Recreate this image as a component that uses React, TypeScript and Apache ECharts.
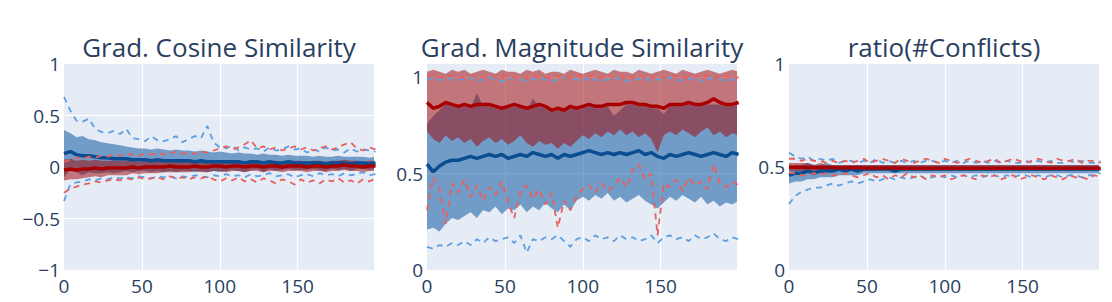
import React, { useEffect, useRef } from "react";
import * as echarts from "echarts";

const EPOCHS = [
  0, 4, 8, 12, 16, 20, 24, 28, 32, 36,
  40, 44, 48, 52, 56, 60, 64, 68, 72, 76,
  80, 84, 88, 92, 96, 100, 104, 108, 112, 116,
  120, 124, 128, 132, 136, 140, 144, 148, 152, 156,
  160, 164, 168, 172, 176, 180, 184, 188, 192, 196,
  200,
];
const X_TICKS = [0, 50, 100, 150];
const TITLES = ["Grad. Cosine Similarity", "Grad. Magnitude Similarity", "ratio(#Conflicts)"];

// ---- Grad. Cosine Similarity ----
const cosBlueMean = [
  0.13, 0.15, 0.12, 0.11, 0.11, 0.10, 0.09, 0.09, 0.08, 0.08,
  0.08, 0.07, 0.07, 0.07, 0.06, 0.07, 0.06, 0.06, 0.06, 0.06,
  0.06, 0.05, 0.06, 0.05, 0.05, 0.05, 0.05, 0.05, 0.05, 0.04,
  0.05, 0.05, 0.04, 0.05, 0.04, 0.04, 0.05, 0.04, 0.04, 0.04,
  0.04, 0.04, 0.03, 0.04, 0.04, 0.04, 0.03, 0.04, 0.04, 0.03,
  0.04,
];
const cosBlueUp = [
  0.36, 0.33, 0.29, 0.30, 0.27, 0.26, 0.24, 0.23, 0.22, 0.21,
  0.20, 0.19, 0.18, 0.18, 0.17, 0.18, 0.17, 0.16, 0.17, 0.16,
  0.16, 0.15, 0.16, 0.15, 0.14, 0.15, 0.14, 0.13, 0.14, 0.13,
  0.13, 0.12, 0.13, 0.12, 0.12, 0.11, 0.12, 0.11, 0.11, 0.11,
  0.10, 0.11, 0.10, 0.10, 0.11, 0.10, 0.10, 0.10, 0.10, 0.09,
  0.10,
];
const cosBlueLo = [
  -0.10, -0.03, -0.05, -0.08, -0.05, -0.06, -0.06, -0.05, -0.06, -0.05,
  -0.04, -0.05, -0.04, -0.04, -0.05, -0.04, -0.05, -0.04, -0.05, -0.04,
  -0.04, -0.05, -0.04, -0.05, -0.04, -0.05, -0.04, -0.03, -0.04, -0.05,
  -0.03, -0.02, -0.05, -0.02, -0.04, -0.03, -0.02, -0.03, -0.03, -0.03,
  -0.02, -0.03, -0.04, -0.02, -0.03, -0.02, -0.04, -0.02, -0.02, -0.03,
  -0.02,
];
const cosBlueMax = [
  0.68, 0.55, 0.45, 0.44, 0.47, 0.37, 0.34, 0.33, 0.35, 0.32,
  0.37, 0.28, 0.27, 0.25, 0.30, 0.26, 0.25, 0.27, 0.30, 0.24,
  0.27, 0.30, 0.28, 0.40, 0.24, 0.19, 0.18, 0.21, 0.16, 0.19,
  0.17, 0.18, 0.15, 0.19, 0.16, 0.17, 0.20, 0.17, 0.18, 0.14,
  0.17, 0.15, 0.19, 0.16, 0.17, 0.14, 0.18, 0.15, 0.17, 0.16,
  0.15,
];
const cosBlueMin = [
  -0.33, -0.17, -0.15, -0.14, -0.12, -0.13, -0.11, -0.12, -0.10, -0.11,
  -0.10, -0.11, -0.09, -0.10, -0.11, -0.09, -0.10, -0.09, -0.11, -0.09,
  -0.10, -0.08, -0.09, -0.10, -0.08, -0.09, -0.07, -0.09, -0.08, -0.10,
  -0.07, -0.09, -0.08, -0.06, -0.09, -0.08, -0.07, -0.10, -0.08, -0.07,
  -0.09, -0.06, -0.08, -0.07, -0.09, -0.06, -0.08, -0.07, -0.05, -0.08,
  -0.07,
];
const cosRedMean = [
  -0.03, -0.02, -0.03, -0.02, -0.02, -0.01, -0.02, -0.01, -0.01, -0.01,
  -0.01, 0.00, -0.01, 0.00, 0.00, 0.00, 0.00, 0.01, 0.00, 0.00,
  0.00, 0.01, 0.00, 0.00, 0.01, 0.01, 0.00, 0.01, 0.01, 0.00,
  0.01, 0.01, 0.00, 0.01, 0.01, 0.00, 0.01, 0.01, 0.01, 0.00,
  0.01, 0.01, 0.00, 0.01, 0.01, 0.02, 0.01, 0.01, 0.00, 0.01,
  0.01,
];
const cosRedUp = [
  0.07, 0.08, 0.06, 0.07, 0.06, 0.07, 0.06, 0.06, 0.06, 0.06,
  0.06, 0.06, 0.05, 0.06, 0.06, 0.06, 0.05, 0.06, 0.05, 0.05,
  0.05, 0.06, 0.05, 0.05, 0.06, 0.06, 0.05, 0.06, 0.06, 0.05,
  0.06, 0.06, 0.05, 0.06, 0.06, 0.05, 0.06, 0.06, 0.06, 0.05,
  0.06, 0.06, 0.05, 0.06, 0.06, 0.07, 0.06, 0.06, 0.05, 0.06,
  0.06,
];
const cosRedLo = [
  -0.13, -0.12, -0.12, -0.11, -0.10, -0.09, -0.10, -0.08, -0.08, -0.08,
  -0.08, -0.06, -0.07, -0.06, -0.06, -0.06, -0.05, -0.05, -0.05, -0.05,
  -0.05, -0.04, -0.05, -0.05, -0.04, -0.04, -0.05, -0.04, -0.04, -0.05,
  -0.04, -0.04, -0.05, -0.04, -0.04, -0.05, -0.04, -0.04, -0.04, -0.05,
  -0.04, -0.04, -0.05, -0.04, -0.04, -0.03, -0.04, -0.04, -0.05, -0.04,
  -0.04,
];
const cosRedMax = [
  0.05, 0.07, 0.09, 0.08, 0.10, 0.09, 0.11, 0.10, 0.12, 0.11,
  0.13, 0.12, 0.11, 0.13, 0.12, 0.14, 0.12, 0.13, 0.15, 0.13,
  0.14, 0.13, 0.15, 0.14, 0.16, 0.18, 0.20, 0.17, 0.19, 0.22,
  0.26, 0.18, 0.20, 0.17, 0.19, 0.16, 0.18, 0.20, 0.17, 0.19,
  0.16, 0.18, 0.20, 0.17, 0.19, 0.22, 0.24, 0.18, 0.16, 0.19,
  0.17,
];
const cosRedMin = [
  -0.25, -0.21, -0.19, -0.17, -0.16, -0.14, -0.15, -0.13, -0.12, -0.13,
  -0.11, -0.12, -0.10, -0.12, -0.11, -0.10, -0.12, -0.09, -0.11, -0.10,
  -0.12, -0.10, -0.11, -0.09, -0.12, -0.14, -0.11, -0.13, -0.10, -0.14,
  -0.12, -0.15, -0.11, -0.13, -0.16, -0.12, -0.14, -0.17, -0.12, -0.15,
  -0.13, -0.16, -0.12, -0.14, -0.11, -0.15, -0.13, -0.16, -0.12, -0.14,
  -0.11,
];

// ---- Grad. Magnitude Similarity ----
const magBlueMean = [
  0.55, 0.51, 0.54, 0.56, 0.57, 0.57, 0.58, 0.59, 0.58, 0.59,
  0.60, 0.59, 0.60, 0.58, 0.59, 0.60, 0.59, 0.61, 0.60, 0.59,
  0.60, 0.58, 0.60, 0.59, 0.60, 0.61, 0.62, 0.61, 0.60, 0.61,
  0.60, 0.61, 0.60, 0.61, 0.62, 0.60, 0.61, 0.59, 0.58, 0.60,
  0.59, 0.60, 0.61, 0.60, 0.59, 0.60, 0.61, 0.60, 0.59, 0.61,
  0.60,
];
const magBlueUp = [
  0.76, 0.80, 0.83, 0.86, 0.85, 0.84, 0.85, 0.84, 0.92, 0.85,
  0.85, 0.84, 0.83, 0.84, 0.85, 0.84, 0.83, 0.89, 0.85, 0.84,
  0.82, 0.83, 0.82, 0.84, 0.83, 0.84, 0.85, 0.84, 0.84, 0.85,
  0.80, 0.83, 0.86, 0.86, 0.85, 0.85, 0.84, 0.84, 0.81, 0.85,
  0.85, 0.85, 0.86, 0.85, 0.85, 0.86, 0.86, 0.86, 0.85, 0.85,
  0.86,
];
const magBlueLo = [
  0.21, 0.22, 0.20, 0.24, 0.27, 0.26, 0.28, 0.30, 0.27, 0.31,
  0.30, 0.33, 0.29, 0.32, 0.31, 0.34, 0.30, 0.33, 0.31, 0.35,
  0.32, 0.30, 0.34, 0.31, 0.36, 0.38, 0.36, 0.39, 0.37, 0.40,
  0.36, 0.38, 0.35, 0.37, 0.39, 0.36, 0.34, 0.32, 0.35, 0.38,
  0.36, 0.39, 0.37, 0.35, 0.38, 0.34, 0.36, 0.33, 0.35, 0.34,
  0.36,
];
const magBlueMax = [
  0.99, 1.00, 0.99, 0.98, 1.00, 0.99, 0.99, 1.00, 0.98, 0.99,
  1.00, 0.99, 0.98, 0.99, 1.00, 0.99, 0.98, 0.99, 1.00, 0.99,
  0.98, 0.99, 1.00, 0.99, 0.99, 0.98, 1.00, 0.99, 0.98, 0.99,
  1.00, 0.99, 0.98, 0.99, 0.99, 1.00, 0.98, 0.99, 0.99, 1.00,
  0.98, 0.99, 0.99, 1.00, 0.98, 0.99, 1.00, 0.99, 0.98, 0.99,
  0.99,
];
const magBlueMin = [
  0.12, 0.11, 0.13, 0.12, 0.14, 0.13, 0.15, 0.13, 0.16, 0.14,
  0.17, 0.15, 0.16, 0.17, 0.14, 0.18, 0.09, 0.16, 0.15, 0.17,
  0.16, 0.18, 0.15, 0.12, 0.16, 0.17, 0.15, 0.18, 0.16, 0.17,
  0.15, 0.18, 0.16, 0.17, 0.15, 0.16, 0.18, 0.14, 0.17, 0.18,
  0.16, 0.17, 0.15, 0.18, 0.16, 0.17, 0.19, 0.16, 0.15, 0.17,
  0.16,
];
const magRedMean = [
  0.87, 0.84, 0.85, 0.87, 0.86, 0.85, 0.86, 0.85, 0.86, 0.86,
  0.86, 0.85, 0.84, 0.85, 0.86, 0.85, 0.84, 0.85, 0.86, 0.85,
  0.83, 0.84, 0.83, 0.85, 0.84, 0.85, 0.86, 0.85, 0.85, 0.86,
  0.86, 0.86, 0.87, 0.87, 0.86, 0.86, 0.85, 0.85, 0.84, 0.86,
  0.86, 0.86, 0.87, 0.86, 0.86, 0.87, 0.89, 0.87, 0.86, 0.86,
  0.87,
];
const magRedUp = [
  1.03, 1.04, 1.03, 1.02, 1.04, 1.03, 1.04, 1.02, 1.03, 1.04,
  1.03, 1.02, 1.04, 1.03, 1.03, 1.02, 1.04, 1.03, 1.04, 1.02,
  1.03, 1.03, 1.02, 1.04, 1.03, 1.02, 1.03, 1.04, 1.03, 1.02,
  1.04, 1.03, 1.03, 1.02, 1.04, 1.03, 1.02, 1.03, 1.04, 1.03,
  1.02, 1.04, 1.03, 1.02, 1.03, 1.04, 1.03, 1.02, 1.03, 1.04,
  1.03,
];
const magRedLo = [
  0.72, 0.68, 0.66, 0.70, 0.67, 0.69, 0.66, 0.68, 0.64, 0.67,
  0.69, 0.66, 0.68, 0.65, 0.67, 0.70, 0.66, 0.64, 0.67, 0.65,
  0.66, 0.63, 0.66, 0.64, 0.67, 0.70, 0.68, 0.71, 0.69, 0.72,
  0.70, 0.73, 0.70, 0.72, 0.69, 0.71, 0.68, 0.61, 0.70, 0.72,
  0.70, 0.73, 0.71, 0.69, 0.72, 0.74, 0.70, 0.72, 0.69, 0.71,
  0.70,
];
const magRedMax = [
  1.00, 1.01, 1.00, 1.00, 1.01, 1.00, 1.00, 1.01, 1.00, 1.00,
  1.01, 1.00, 1.00, 1.01, 1.00, 1.01, 1.00, 1.00, 1.01, 1.00,
  1.00, 1.01, 1.00, 1.00, 1.01, 1.00, 1.01, 1.00, 1.00, 1.01,
  1.00, 1.00, 1.01, 1.00, 1.01, 1.00, 1.00, 1.01, 1.00, 1.00,
  1.01, 1.00, 1.00, 1.01, 1.00, 1.01, 1.00, 1.00, 1.01, 1.00,
  1.00,
];
const magRedMin = [
  0.31, 0.48, 0.42, 0.24, 0.45, 0.40, 0.47, 0.38, 0.44, 0.36,
  0.43, 0.39, 0.46, 0.35, 0.27, 0.41, 0.44, 0.37, 0.42, 0.34,
  0.40, 0.22, 0.36, 0.31, 0.38, 0.42, 0.44, 0.40, 0.45, 0.41,
  0.44, 0.48, 0.43, 0.52, 0.55, 0.47, 0.50, 0.18, 0.45, 0.43,
  0.47, 0.41, 0.48, 0.44, 0.46, 0.42, 0.55, 0.45, 0.43, 0.46,
  0.44,
];

// ---- ratio(#Conflicts) ----
const ratBlueMean = [
  0.46, 0.47, 0.47, 0.48, 0.47, 0.48, 0.48, 0.48, 0.49, 0.48,
  0.49, 0.48, 0.49, 0.49, 0.49, 0.49, 0.49, 0.48, 0.49, 0.49,
  0.49, 0.49, 0.49, 0.49, 0.49, 0.49, 0.49, 0.49, 0.49, 0.49,
  0.49, 0.49, 0.49, 0.49, 0.49, 0.49, 0.49, 0.49, 0.49, 0.49,
  0.49, 0.49, 0.49, 0.49, 0.49, 0.49, 0.49, 0.49, 0.49, 0.49,
  0.49,
];
const ratBlueUp = [
  0.50, 0.51, 0.51, 0.52, 0.51, 0.51, 0.52, 0.51, 0.51, 0.51,
  0.51, 0.51, 0.51, 0.51, 0.51, 0.51, 0.51, 0.51, 0.51, 0.51,
  0.51, 0.51, 0.51, 0.51, 0.51, 0.51, 0.51, 0.51, 0.51, 0.51,
  0.51, 0.51, 0.51, 0.51, 0.51, 0.51, 0.51, 0.51, 0.51, 0.51,
  0.51, 0.51, 0.51, 0.51, 0.51, 0.51, 0.51, 0.51, 0.51, 0.51,
  0.51,
];
const ratBlueLo = [
  0.42, 0.43, 0.43, 0.44, 0.44, 0.45, 0.45, 0.45, 0.46, 0.46,
  0.46, 0.46, 0.47, 0.47, 0.47, 0.47, 0.47, 0.47, 0.47, 0.47,
  0.47, 0.47, 0.47, 0.47, 0.47, 0.47, 0.47, 0.47, 0.47, 0.47,
  0.47, 0.47, 0.47, 0.47, 0.47, 0.47, 0.47, 0.47, 0.47, 0.47,
  0.47, 0.47, 0.47, 0.47, 0.47, 0.47, 0.47, 0.47, 0.47, 0.47,
  0.47,
];
const ratBlueMax = [
  0.57, 0.55, 0.54, 0.55, 0.53, 0.54, 0.53, 0.54, 0.52, 0.53,
  0.53, 0.52, 0.53, 0.52, 0.54, 0.52, 0.53, 0.52, 0.53, 0.52,
  0.53, 0.52, 0.53, 0.53, 0.52, 0.53, 0.52, 0.53, 0.52, 0.53,
  0.52, 0.53, 0.52, 0.53, 0.52, 0.53, 0.52, 0.52, 0.53, 0.52,
  0.53, 0.52, 0.53, 0.52, 0.52, 0.53, 0.52, 0.53, 0.52, 0.52,
  0.53,
];
const ratBlueMin = [
  0.32, 0.36, 0.38, 0.39, 0.40, 0.40, 0.41, 0.42, 0.41, 0.42,
  0.43, 0.42, 0.43, 0.44, 0.43, 0.44, 0.45, 0.44, 0.45, 0.44,
  0.45, 0.46, 0.44, 0.45, 0.46, 0.45, 0.46, 0.45, 0.46, 0.45,
  0.46, 0.45, 0.46, 0.46, 0.45, 0.46, 0.45, 0.46, 0.46, 0.45,
  0.46, 0.45, 0.46, 0.46, 0.45, 0.46, 0.46, 0.45, 0.46, 0.46,
  0.47,
];
const ratRedMean = [
  0.500, 0.499, 0.499, 0.498, 0.498, 0.497, 0.497, 0.497, 0.496, 0.496,
  0.496, 0.496, 0.495, 0.495, 0.495, 0.495, 0.495, 0.495, 0.494, 0.494,
  0.494, 0.494, 0.494, 0.494, 0.494, 0.494, 0.494, 0.494, 0.494, 0.494,
  0.494, 0.494, 0.494, 0.494, 0.494, 0.494, 0.494, 0.494, 0.494, 0.494,
  0.494, 0.494, 0.494, 0.494, 0.494, 0.494, 0.494, 0.494, 0.494, 0.494,
  0.494,
];
const ratRedUp = [
  0.52, 0.52, 0.52, 0.52, 0.51, 0.52, 0.51, 0.51, 0.51, 0.51,
  0.51, 0.51, 0.51, 0.51, 0.51, 0.51, 0.51, 0.51, 0.51, 0.51,
  0.51, 0.51, 0.51, 0.51, 0.51, 0.51, 0.51, 0.51, 0.51, 0.51,
  0.51, 0.51, 0.51, 0.51, 0.51, 0.51, 0.51, 0.51, 0.51, 0.51,
  0.51, 0.51, 0.51, 0.51, 0.51, 0.51, 0.51, 0.51, 0.51, 0.51,
  0.51,
];
const ratRedLo = [
  0.48, 0.48, 0.48, 0.48, 0.48, 0.48, 0.48, 0.48, 0.48, 0.48,
  0.48, 0.48, 0.48, 0.48, 0.48, 0.48, 0.48, 0.48, 0.48, 0.48,
  0.48, 0.48, 0.48, 0.48, 0.48, 0.48, 0.48, 0.48, 0.48, 0.48,
  0.48, 0.48, 0.48, 0.48, 0.48, 0.48, 0.48, 0.48, 0.48, 0.48,
  0.48, 0.48, 0.48, 0.48, 0.48, 0.48, 0.48, 0.48, 0.48, 0.48,
  0.48,
];
const ratRedMax = [
  0.54, 0.54, 0.53, 0.54, 0.53, 0.53, 0.52, 0.53, 0.52, 0.53,
  0.52, 0.53, 0.54, 0.52, 0.53, 0.54, 0.53, 0.52, 0.54, 0.53,
  0.52, 0.53, 0.54, 0.53, 0.52, 0.54, 0.53, 0.52, 0.53, 0.54,
  0.53, 0.52, 0.53, 0.54, 0.52, 0.53, 0.54, 0.53, 0.52, 0.53,
  0.54, 0.53, 0.52, 0.54, 0.53, 0.53, 0.54, 0.52, 0.53, 0.53,
  0.52,
];
const ratRedMin = [
  0.47, 0.47, 0.46, 0.46, 0.47, 0.46, 0.47, 0.46, 0.46, 0.47,
  0.46, 0.45, 0.46, 0.47, 0.45, 0.46, 0.44, 0.46, 0.45, 0.47,
  0.45, 0.46, 0.44, 0.46, 0.45, 0.46, 0.44, 0.45, 0.46, 0.45,
  0.44, 0.46, 0.45, 0.46, 0.44, 0.45, 0.46, 0.44, 0.45, 0.46,
  0.45, 0.44, 0.46, 0.45, 0.44, 0.46, 0.45, 0.45, 0.44, 0.46,
  0.45,
];

const PANELS = [
  {
    blue: { mean: cosBlueMean, up: cosBlueUp, lo: cosBlueLo, max: cosBlueMax, min: cosBlueMin },
    red: { mean: cosRedMean, up: cosRedUp, lo: cosRedLo, max: cosRedMax, min: cosRedMin },
  },
  {
    blue: { mean: magBlueMean, up: magBlueUp, lo: magBlueLo, max: magBlueMax, min: magBlueMin },
    red: { mean: magRedMean, up: magRedUp, lo: magRedLo, max: magRedMax, min: magRedMin },
  },
  {
    blue: { mean: ratBlueMean, up: ratBlueUp, lo: ratBlueLo, max: ratBlueMax, min: ratBlueMin },
    red: { mean: ratRedMean, up: ratRedUp, lo: ratRedLo, max: ratRedMax, min: ratRedMin },
  },
];

const GRID_LEFTS = [64, 427, 789];
const GRID_WIDTH = 310;
const GRID_TOP = 64;
const GRID_HEIGHT = 206;
const Y_RANGES = [
  [-1, 1],
  [0, 1.07],
  [0, 1],
];

const FONT = "'Open Sans', sans-serif";
const TEXT_COLOR = "#2a3f5f";

const COLORS = {
  blue: { line: "#0a4d91", fill: "rgba(0,76,153,0.5)", dash: "#5f9fe0" },
  red: { line: "#a80000", fill: "rgba(160,0,0,0.5)", dash: "#e8605e" },
};

const pairs = (ys: number[]) => EPOCHS.map((x, i) => [x, ys[i]]);

function bandSeries(k: number, fill: string, up: number[], lo: number[]) {
  return {
    type: "custom",
    xAxisIndex: k,
    yAxisIndex: k,
    silent: true,
    clip: true,
    data: EPOCHS.map((x, i) => [x, lo[i], up[i]]),
    encode: { x: 0, y: [1, 2] },
    renderItem: (params: any, api: any) => {
      if (params.dataIndex !== 0) return null;
      const top = EPOCHS.map((x, i) => api.coord([x, up[i]]));
      const bot = EPOCHS.map((x, i) => api.coord([x, lo[i]])).reverse();
      return {
        type: "polygon",
        shape: { points: top.concat(bot) },
        style: { fill, stroke: "none" },
        silent: true,
      };
    },
  };
}

function groupSeries(k: number, name: "blue" | "red", g: any) {
  const c = COLORS[name];
  const common = { type: "line", xAxisIndex: k, yAxisIndex: k, symbol: "none", silent: true, clip: true };
  return [
    bandSeries(k, c.fill, g.up, g.lo),
    { ...common, data: pairs(g.mean), lineStyle: { color: c.line, width: 3.5 } },
    { ...common, data: pairs(g.max), lineStyle: { color: c.dash, width: 1.8, type: [6, 5] } },
    { ...common, data: pairs(g.min), lineStyle: { color: c.dash, width: 1.8, type: [6, 5] } },
  ];
}

const fmtY = (v: number) => {
  if (Math.abs(v) < 1e-9) return "0";
  const s = String(Math.abs(Math.round(v * 100) / 100));
  return v < 0 ? "\u2212" + s : s;
};

export default function App() {
  const ref = useRef<HTMLDivElement>(null);
  useEffect(() => {
    document.body.style.margin = "0";
    const chart = echarts.init(ref.current!, null, { renderer: "svg" });
    const grids = GRID_LEFTS.map((left) => ({
      left,
      top: GRID_TOP,
      width: GRID_WIDTH,
      height: GRID_HEIGHT,
      show: true,
      backgroundColor: "#E5ECF6",
      borderWidth: 0,
      containLabel: false,
    }));
    const xAxes = GRID_LEFTS.map((_, k) => ({
      type: "value",
      gridIndex: k,
      min: 0,
      max: 199,
      interval: 50,
      axisLine: { show: false },
      axisTick: { show: false },
      splitLine: { show: true, showMinLine: false, showMaxLine: false, lineStyle: { color: "#ffffff", width: 1 } },
      axisLabel: {
        color: TEXT_COLOR,
        fontSize: 19,
        fontFamily: FONT,
        margin: 6,
        showMaxLabel: false,
        formatter: (v: number) => (X_TICKS.includes(v) ? String(v) : ""),
      },
    }));
    const yAxes = Y_RANGES.map((r, k) => ({
      type: "value",
      gridIndex: k,
      min: r[0],
      max: r[1],
      interval: 0.5,
      axisLine: { show: false },
      axisTick: { show: false },
      splitLine: { show: true, showMinLine: false, showMaxLine: false, lineStyle: { color: "#ffffff", width: 1 } },
      axisLabel: {
        color: TEXT_COLOR,
        fontSize: 19,
        fontFamily: FONT,
        margin: 4,
        showMaxLabel: k === 1 ? false : true,
        formatter: (v: number) => (Math.abs(v * 2 - Math.round(v * 2)) < 1e-9 ? fmtY(v) : ""),
      },
    }));
    const titles = TITLES.map((t, k) => ({
      text: t,
      left: GRID_LEFTS[k] + GRID_WIDTH / 2,
      top: 34,
      padding: 0,
      textAlign: "center",
      textStyle: { color: TEXT_COLOR, fontSize: 26, fontWeight: "normal", fontFamily: FONT },
    }));
    const series: any[] = [];
    PANELS.forEach((p, k) => {
      series.push(...groupSeries(k, "blue", p.blue));
      series.push(...groupSeries(k, "red", p.red));
    });
    chart.setOption({
      animation: false,
      backgroundColor: "#ffffff",
      title: titles,
      grid: grids,
      xAxis: xAxes,
      yAxis: yAxes,
      series,
    });
    return () => chart.dispose();
  }, []);
  return <div ref={ref} style={{ width: 1112, height: 302 }} />;
}
